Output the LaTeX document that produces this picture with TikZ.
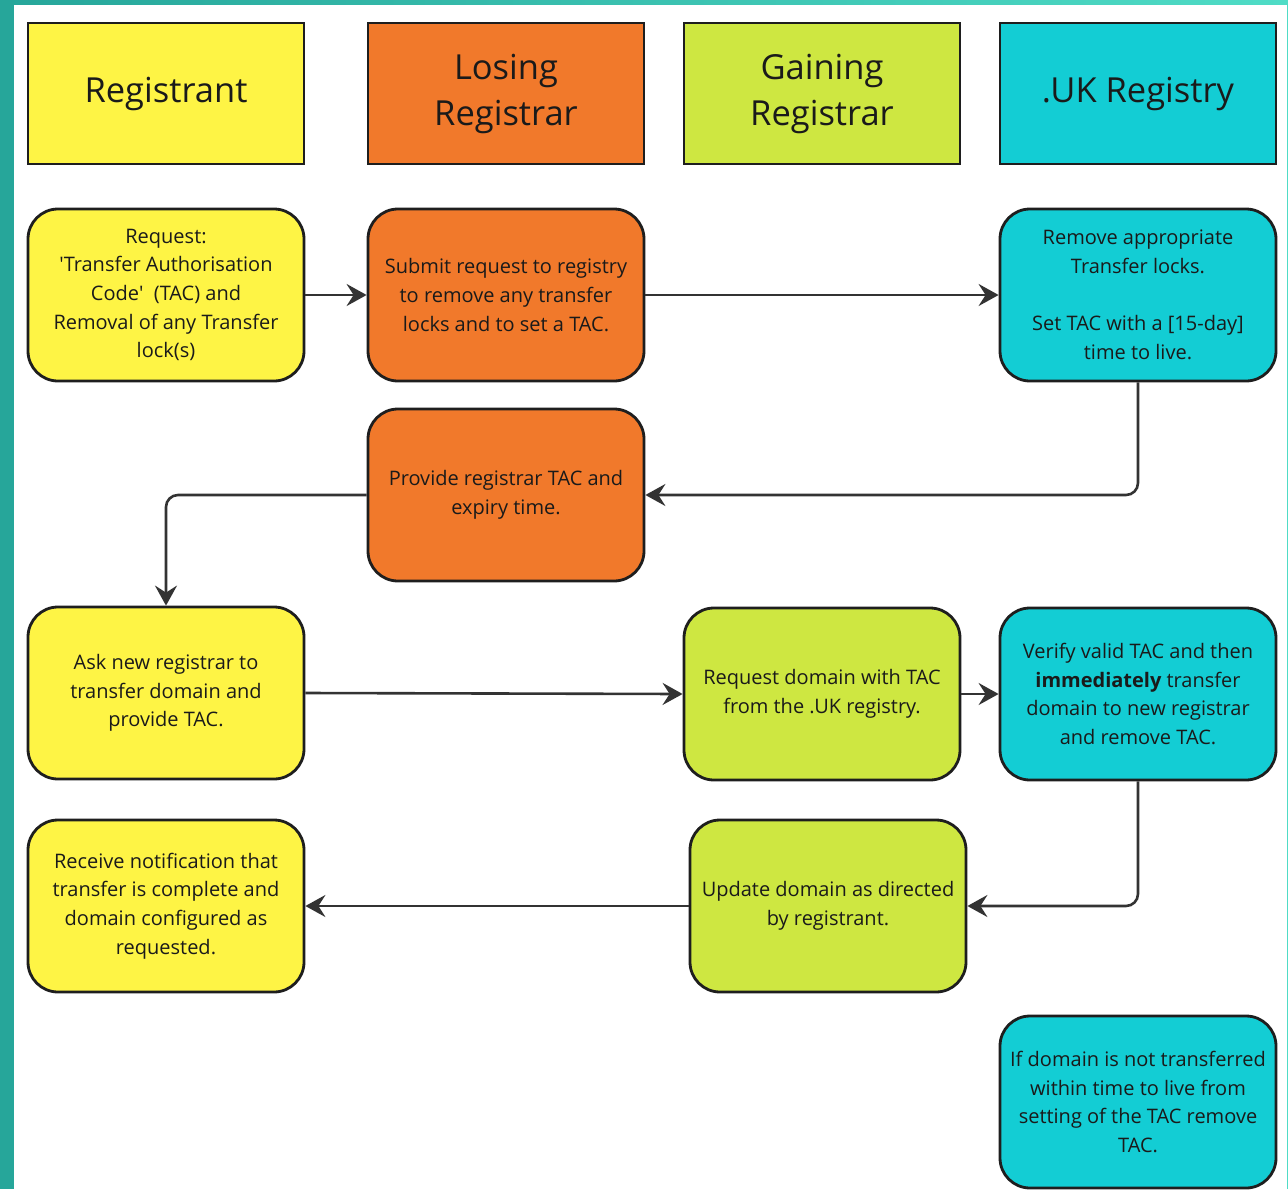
\documentclass[tikz,border=0pt]{standalone}
\usepackage{fontspec}
\setmainfont{Open Sans}
\usetikzlibrary{arrows.meta}
\definecolor{cyel}{HTML}{FEF445}
\definecolor{corg}{HTML}{F1792B}
\definecolor{cgrn}{HTML}{CEE741}
\definecolor{ccyn}{HTML}{13CDD4}
\definecolor{tealA}{HTML}{26A69A}
\definecolor{tealB}{HTML}{4FDCC6}
\definecolor{edge}{HTML}{1E1E1E}
\definecolor{lnk}{HTML}{333333}
\definecolor{txt}{HTML}{1A1A1A}
\begin{document}
\begin{tikzpicture}[x=1pt,y=-1pt,
  hdr/.style={draw=edge, line width=2.8pt, minimum width=276pt, minimum height=141pt,
    align=center, text=txt, font=\fontsize{34.5}{46}\selectfont},
  stepbox/.style={draw=edge, line width=2.8pt, rounded corners=30pt, minimum width=276pt,
    minimum height=172pt, align=center, text=txt, font=\fontsize{20}{28.7}\selectfont},
  arr/.style={draw=lnk, line width=2.6pt, -{Stealth[length=20pt,width=22pt,inset=7pt]}},
  elbow/.style={arr, rounded corners=12pt}]
\useasboundingbox (0,0) rectangle (1288,1189);
\fill[white] (0,0) rectangle (1288,1189);
\clip (0,0) rectangle (1288,1189);
\shade[left color=tealA, right color=tealB] (0,0) rectangle (1288,4.5);
\fill[tealA] (0,0) rectangle (14,1189);
\fill[tealB] (1286.8,0) rectangle (1288,1189);

% headers
\node[hdr, fill=cyel] (h1) at (166,93.5) {Registrant};
\node[hdr, fill=corg] (h2) at (506,93.5) {Losing\\Registrar};
\node[hdr, fill=cgrn] (h3) at (822,93.5) {Gaining\\Registrar};
\node[hdr, fill=ccyn] (h4) at (1138,93.5) {.UK Registry};

% row 1
\node[stepbox, fill=cyel] (r1) at (166,295) {Request:\\\textquotesingle Transfer Authorisation\\Code\textquotesingle\ \ (TAC) and\\Removal of any Transfer\\lock(s)};
\node[stepbox, fill=corg] (l1) at (506,295) {Submit request to registry\\to remove any transfer\\locks and to set a TAC.};
\node[stepbox, fill=ccyn] (u1) at (1138,295) {Remove appropriate\\Transfer locks.\\[28.7pt]Set TAC with a [15-day]\\time to live.};

% row 2
\node[stepbox, fill=corg] (l2) at (506,495) {Provide registrar TAC and\\expiry time.};

% row 3
\node[stepbox, fill=cyel] (r3) at (166,693) {Ask new registrar to\\transfer domain and\\provide TAC.};
\node[stepbox, fill=cgrn] (g3) at (822,694) {Request domain with TAC\\from the .UK registry.};
\node[stepbox, fill=ccyn] (u3) at (1138,694) {Verify valid TAC and then\\\textbf{immediately} transfer\\domain to new registrar\\and remove TAC.};

% row 4
\node[stepbox, fill=cyel] (r4) at (166,906) {Receive notification that\\transfer is complete and\\domain configured as\\requested.};
\node[stepbox, fill=cgrn] (g4) at (828,906) {Update domain as directed\\by registrant.};

% row 5
\node[stepbox, fill=ccyn] (u5) at (1138,1102) {If domain is not transferred\\within time to live from\\setting of the TAC remove\\TAC.};

% connectors
\draw[arr] (r1.east) -- (l1.west);
\draw[arr] (l1.east) -- (u1.west);
\draw[elbow] (u1.south) |- (l2.east);
\draw[elbow] (l2.west) -| (r3.north);
\draw[arr] (r3.east) -- (g3.west);
\draw[arr] (g3.east) -- (u3.west);
\draw[elbow] (u3.south) |- (g4.east);
\draw[arr] (g4.west) -- (r4.east);
\end{tikzpicture}
\end{document}
